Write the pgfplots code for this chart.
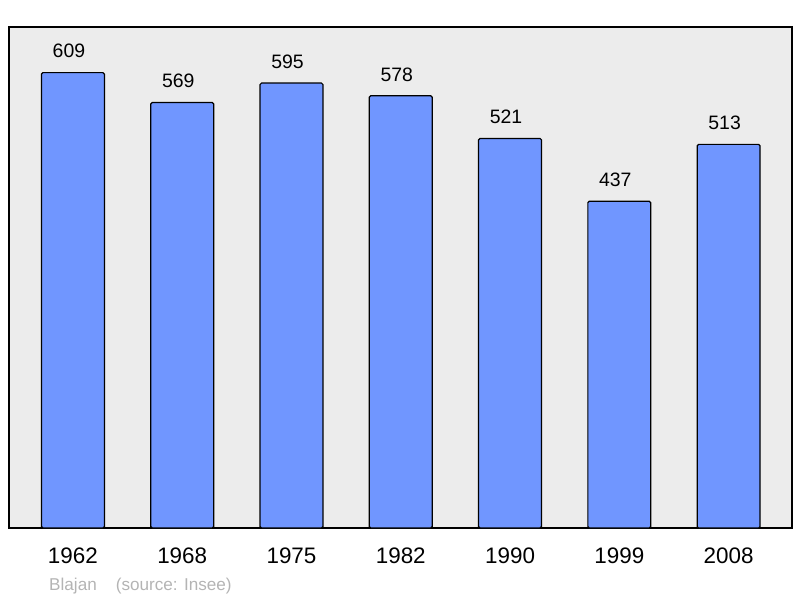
\documentclass[border=0pt]{standalone}
\usepackage{fontspec}
\setmainfont{Liberation Sans}
\usepackage{pgfplots}
\pgfplotsset{compat=1.18}
\definecolor{barblue}{RGB}{112,150,255}
\definecolor{bggray}{RGB}{236,236,236}
\definecolor{srcgray}{RGB}{180,180,180}

\begin{document}
\begin{tikzpicture}
\useasboundingbox (-9bp,-70bp) rectangle (791bp,528bp);
\begin{axis}[
  name=ax,
  at={(0,0)},anchor=south west,
  scale only axis,
  width=783bp,height=501bp,
  xmin=-0.585,xmax=6.58,ymin=0,ymax=670,
  axis background/.style={fill=bggray},
  axis line style={line width=1.6bp},
  ytick=\empty,
  xtick={0,...,6},
  xticklabels={1962,1968,1975,1982,1990,1999,2008},
  major tick length=0pt,
  xticklabel style={font=\fontsize{22.5}{26}\selectfont,inner sep=0pt,anchor=north,yshift=-20bp},
  /pgf/number format/assume math mode=true,
  clip=false
]
\addplot[ybar,bar width=0.576,fill=barblue,draw=black,line width=1.2bp,rounded corners=1.5bp,
  nodes near coords,
  every node near coord/.append style={font=\fontsize{19.5}{22}\selectfont,inner sep=0pt,anchor=south,xshift=-4bp,yshift=14bp}]
  coordinates {(0,609) (1,569) (2,595) (3,578) (4,521) (5,437) (6,513)};
\node[anchor=base west,inner sep=0pt,text=srcgray,font=\fontsize{17.2}{20}\selectfont]
  at ([xshift=40bp,yshift=-62bp]rel axis cs:0,0) {Blajan\hspace{19bp}(source: Insee)};
\end{axis}
\end{tikzpicture}
\end{document}
